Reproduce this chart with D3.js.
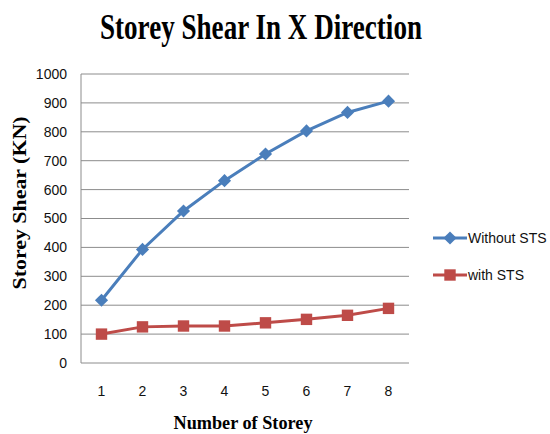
<!DOCTYPE html>
<html><head><meta charset="utf-8">
<script src="https://cdn.jsdelivr.net/npm/d3@7"></script>
<style>body{margin:0;background:#fff}svg{display:block}</style>
</head><body><svg id="c" width="550" height="434"></svg>
<script>
const storeys = ["1","2","3","4","5","6","7","8"];
const withoutSTS = [217, 393, 526, 631, 723, 803, 867, 906];
const withSTS = [100, 125, 128, 128, 139, 151, 165, 189];
const yTicks = [0,100,200,300,400,500,600,700,800,900,1000];
const seriesNames = ["Without STS", "with STS"];

const svg = d3.select("#c");
const L = 81, R = 409, T = 74, B = 363;
const x = d3.scaleBand().domain(storeys).range([L, R]);
const y = d3.scaleLinear().domain([0, 1000]).range([B, T]);

svg.append("g").selectAll("line").data(yTicks.filter(d=>d>0)).join("line")
  .attr("x1", L).attr("x2", R).attr("y1", d=>y(d)).attr("y2", d=>y(d))
  .attr("stroke", "#8c8c8c").attr("stroke-width", 1);
svg.append("line").attr("x1", L).attr("x2", L).attr("y1", T).attr("y2", B).attr("stroke", "#8c8c8c");
svg.append("line").attr("x1", L).attr("x2", R).attr("y1", B).attr("y2", B).attr("stroke", "#8c8c8c");

const yAxis = svg.append("g").attr("transform", `translate(${L},0)`)
  .call(d3.axisLeft(y).tickValues(yTicks).tickFormat(d3.format("d")).tickSize(0).tickPadding(14));
yAxis.select(".domain").remove();
yAxis.selectAll("text").attr("font-family", "Liberation Sans, Arial, sans-serif").attr("font-size", 14).attr("fill", "#111");

const xAxis = svg.append("g").attr("transform", `translate(0,${B})`)
  .call(d3.axisBottom(x).tickSize(0).tickPadding(23));
xAxis.select(".domain").remove();
xAxis.selectAll("text").attr("font-family", "Liberation Sans, Arial, sans-serif").attr("font-size", 14).attr("fill", "#111");

const line = d3.line().x((d,i)=>x(storeys[i]) + x.bandwidth()/2).y(d=>y(d));
const blue = "#4a7ebb", red = "#be4b48";

svg.append("path").datum(withoutSTS).attr("d", line).attr("fill","none").attr("stroke", blue).attr("stroke-width", 3);
svg.append("path").datum(withSTS).attr("d", line).attr("fill","none").attr("stroke", red).attr("stroke-width", 3);

const diamond = d3.symbol().type(d3.symbolDiamond2).size(110);
const square = d3.symbol().type(d3.symbolSquare).size(130);
svg.append("g").selectAll("path").data(withoutSTS).join("path")
  .attr("d", diamond).attr("fill", blue)
  .attr("transform", (d,i)=>`translate(${x(storeys[i])+x.bandwidth()/2},${y(d)})`);
svg.append("g").selectAll("path").data(withSTS).join("path")
  .attr("d", square).attr("fill", red)
  .attr("transform", (d,i)=>`translate(${x(storeys[i])+x.bandwidth()/2},${y(d)})`);

const leg = [{n: seriesNames[0], c: blue, s: diamond, y: 238}, {n: seriesNames[1], c: red, s: square, y: 275}];
leg.forEach(l => {
  svg.append("line").attr("x1", 433).attr("x2", 467).attr("y1", l.y).attr("y2", l.y).attr("stroke", l.c).attr("stroke-width", 3);
  svg.append("path").attr("d", l.s).attr("fill", l.c).attr("transform", `translate(450,${l.y})`);
  svg.append("text").attr("x", 468).attr("y", l.y + 5).text(l.n)
    .attr("font-family", "Liberation Sans, Arial, sans-serif").attr("font-size", 14).attr("fill", "#111");
});

svg.append("text").attr("x", 261).attr("y", 39).attr("text-anchor", "middle")
  .attr("font-family", "Liberation Serif, Times New Roman, serif").attr("font-weight", "bold")
  .attr("font-size", 35).attr("textLength", 322).attr("lengthAdjust", "spacingAndGlyphs")
  .text("Storey Shear In X Direction");

svg.append("text").attr("transform", "translate(26,203) rotate(-90)").attr("text-anchor", "middle")
  .attr("font-family", "Liberation Serif, Times New Roman, serif").attr("font-weight", "bold")
  .attr("font-size", 18).attr("textLength", 173).attr("lengthAdjust", "spacingAndGlyphs")
  .text("Storey Shear (KN)");

svg.append("text").attr("x", 243).attr("y", 429).attr("text-anchor", "middle")
  .attr("font-family", "Liberation Serif, Times New Roman, serif").attr("font-weight", "bold")
  .attr("font-size", 19).attr("textLength", 139).attr("lengthAdjust", "spacingAndGlyphs")
  .text("Number  of Storey");
</script></body></html>
